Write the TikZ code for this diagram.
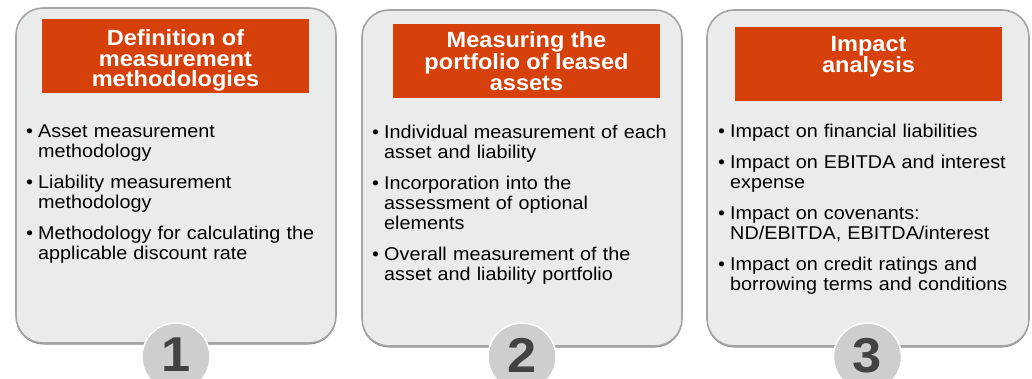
\documentclass[tikz,border=0pt]{standalone}
\usepackage{fontspec}
\setmainfont{Liberation Sans}[FakeStretch=1.07]
\usetikzlibrary{positioning,shadows}

\definecolor{PanelFill}{RGB}{234,235,235}
\definecolor{PanelEdge}{RGB}{163,164,164}
\definecolor{PanelShade}{RGB}{140,140,140}
\definecolor{HeadOrange}{RGB}{214,64,10}
\definecolor{BadgeFill}{RGB}{205,207,207}
\definecolor{BadgeText}{RGB}{66,66,66}

\newcommand{\hdrfont}{\bfseries\fontsize{22}{20.5}\selectfont}
\newcommand{\txtfont}{\fontsize{18.5}{20}\selectfont}
\newcommand{\bigdigit}{\bfseries\fontsize{49}{49}\selectfont}
% one bullet point, with the wrapped lines hanging under the text
\newcommand{\pitem}[1]{\hangindent=12pt\hangafter=1\noindent\makebox[12pt][l]{\textbullet}#1\par\vspace{11pt}}

\begin{document}
\begin{tikzpicture}[
        x=1pt, y=-1pt,
        panel/.style={draw=PanelEdge, line width=1.6pt, fill=PanelFill, rounded corners=27pt,
                      minimum width=320pt, minimum height=335pt,
                      drop shadow={shadow xshift=0pt, shadow yshift=-1.5pt, fill=PanelShade, opacity=1}},
        head/.style={fill=HeadOrange, text=white, font=\hdrfont, align=center,
                     minimum width=267pt, minimum height=74pt, inner sep=0pt},
        body/.style={anchor=north west, text width=310pt, font=\txtfont, inner sep=0pt},
        badge/.style={circle, fill=BadgeFill, draw=white, line width=1.5pt, minimum size=68pt,
                      text=BadgeText, font=\bigdigit, inner sep=0pt, text depth=4pt}
    ]
        \useasboundingbox (0,0) rectangle (1032,378);

        % three panels
        \node[panel] (p1) at (176,175.5) {};
        \node[panel, minimum height=336pt] (p2) at (522,178) {};
        \node[panel, minimum width=322pt, minimum height=336pt] (p3) at (868,178) {};

        % orange headings
        \node[head, text height=61pt, text depth=0pt] (h1) at (175.5,56) {Definition of\\ measurement\\ methodologies};
        \node[head, text depth=0pt] (h2) at (526.5,61) {Measuring the\\ portfolio of leased\\ assets};
        \node[head, text depth=19pt] (h3) at (868.5,64) {Impact\\ analysis};

        % bullet lists
        \node[body] (l1) at (26,125) {%
            \pitem{Asset measurement\newline methodology}%
            \pitem{Liability measurement\newline methodology}%
            \pitem{Methodology for calculating the\newline applicable discount rate}};
        \node[body] (l2) at (372,125) {%
            \pitem{Individual measurement of each\newline asset and liability}%
            \pitem{Incorporation into the\newline assessment of optional\newline elements}%
            \pitem{Overall measurement of the\newline asset and liability portfolio}};
        \node[body] (l3) at (718,124) {%
            \pitem{Impact on financial liabilities}%
            \pitem{Impact on EBITDA and interest\newline expense}%
            \pitem{Impact on covenants:\newline ND/EBITDA, EBITDA/interest}%
            \pitem{Impact on credit ratings and\newline borrowing terms and conditions}};

        % step numbers on the bottom edge
        \node[badge] (b1) at (176,357) {1};
        \node[badge] (b2) at (522,357) {2};
        \node[badge] (b3) at (867.5,357) {3};
    \end{tikzpicture}
\end{document}
